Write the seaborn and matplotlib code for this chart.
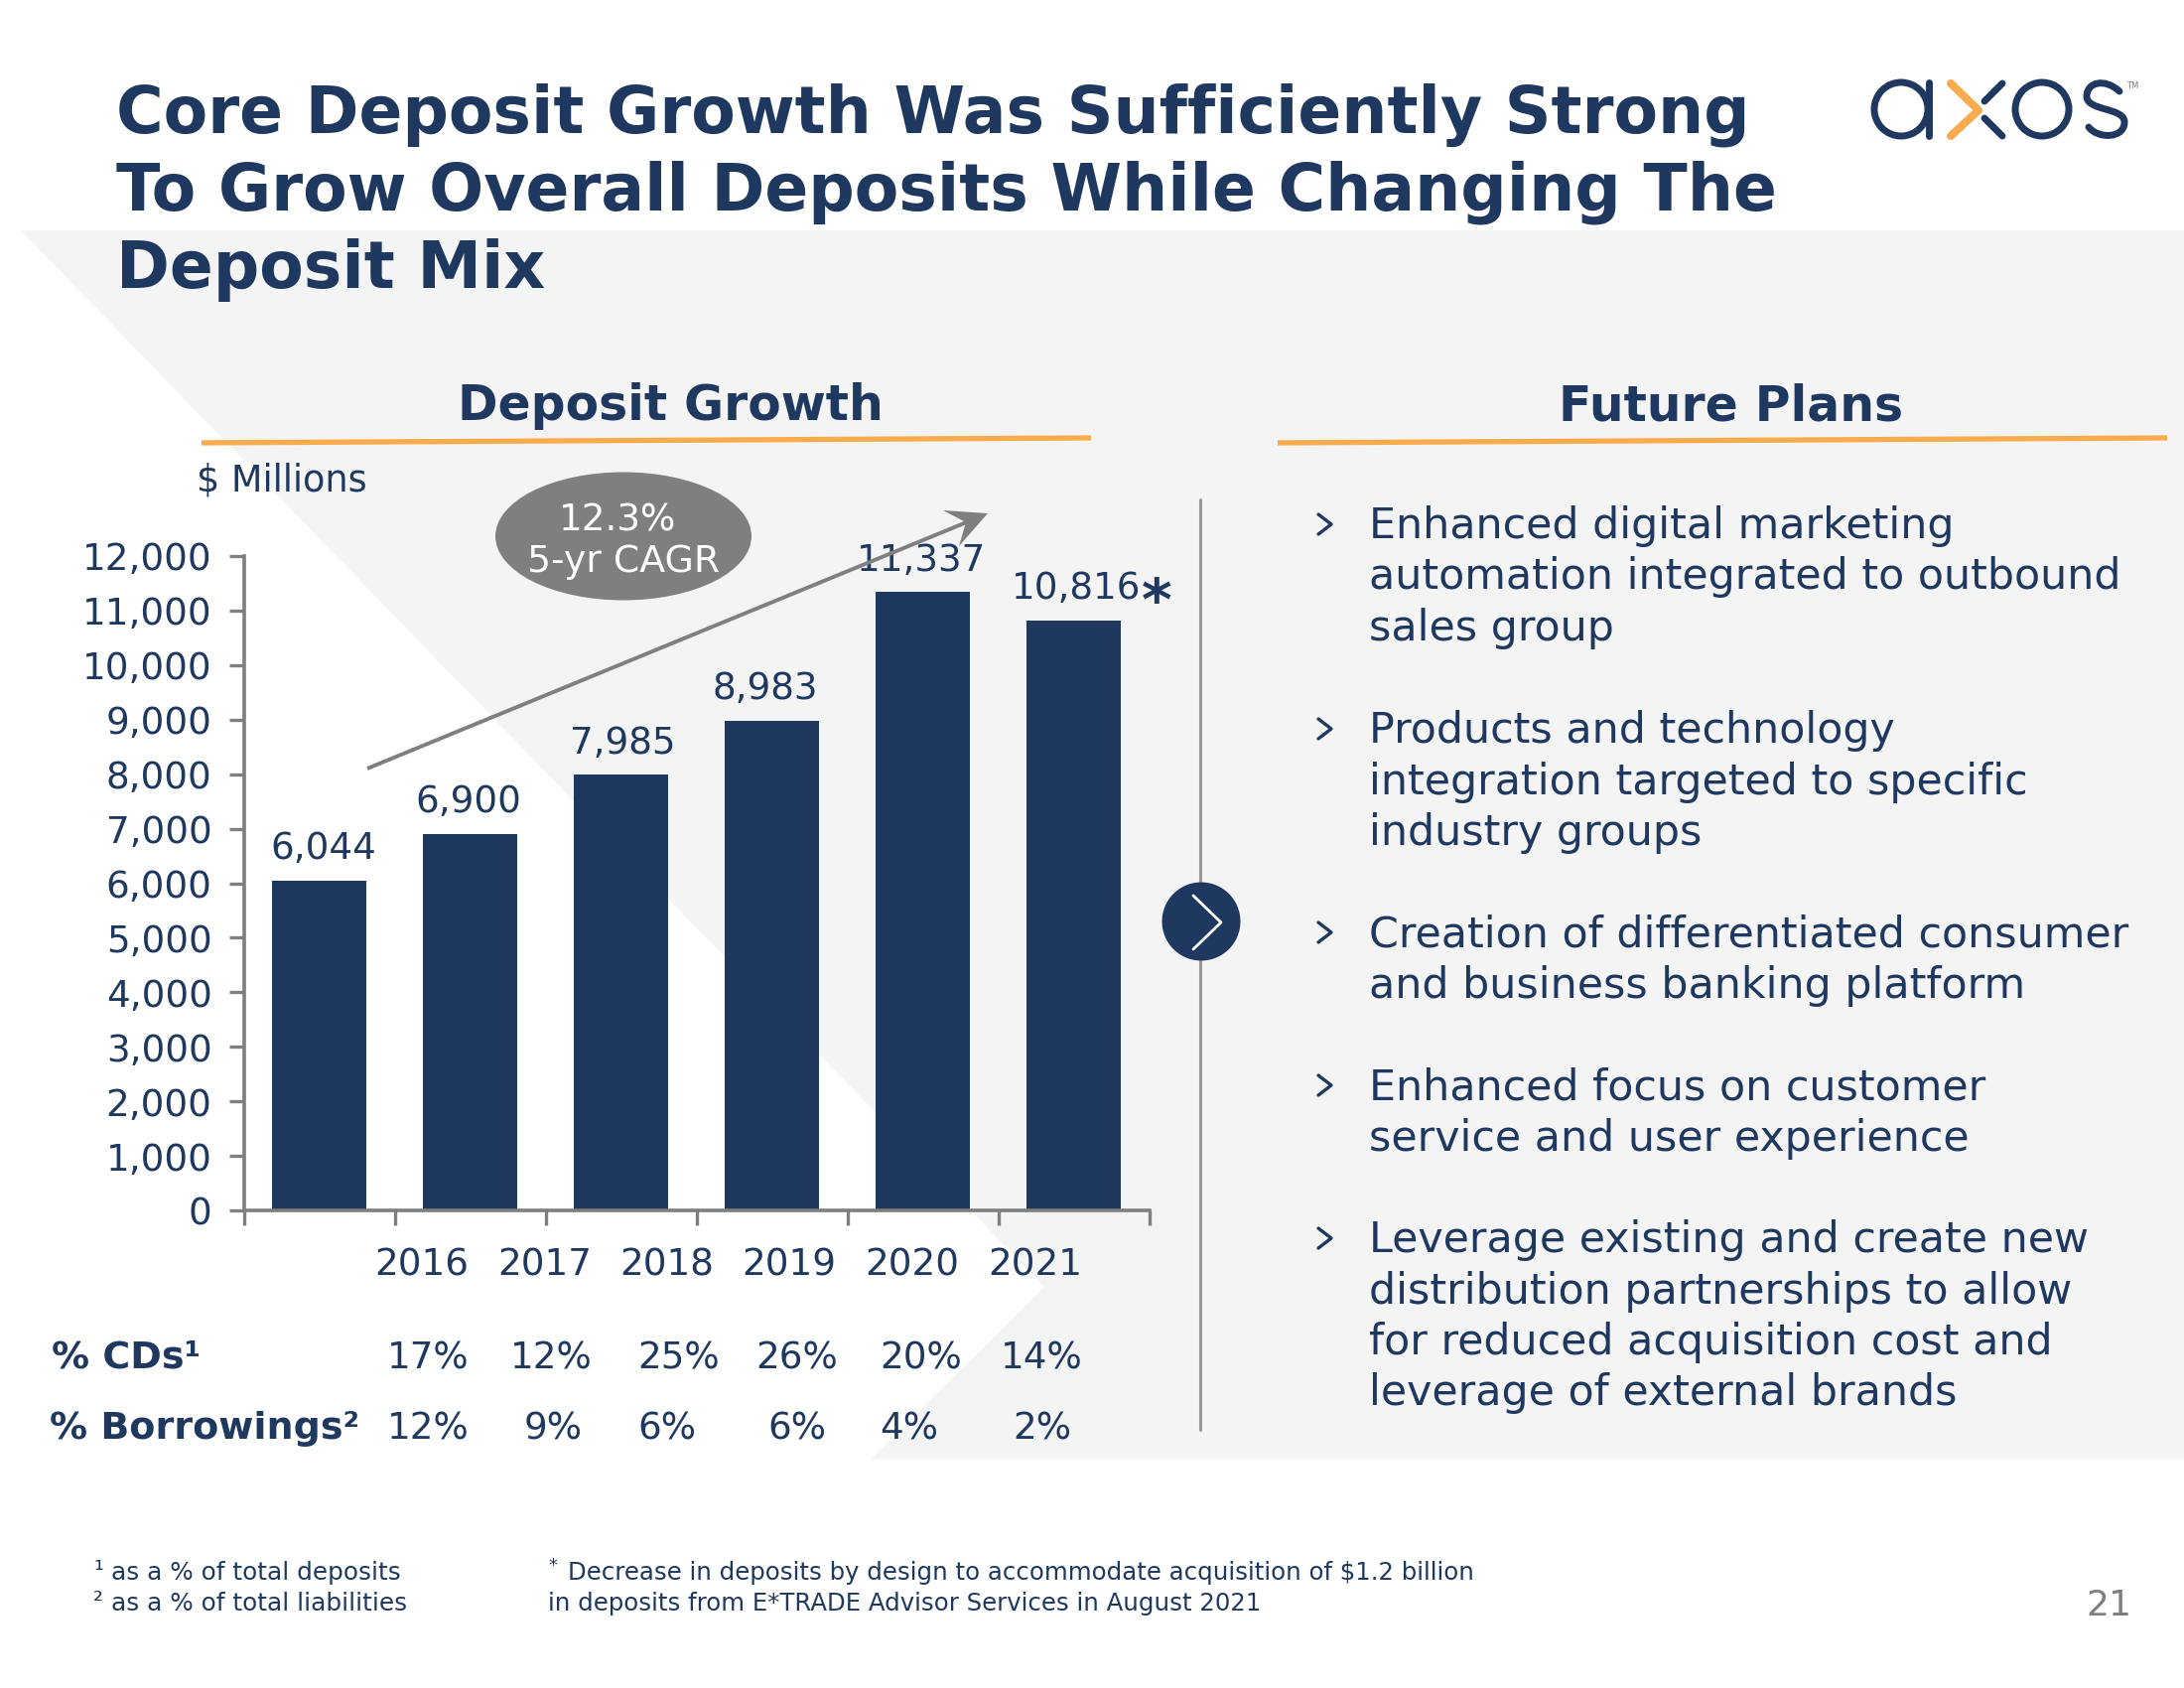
import matplotlib
matplotlib.use("Agg")
import matplotlib.pyplot as plt
from matplotlib.patches import Polygon, Ellipse, Circle, PathPatch
from matplotlib.path import Path
import seaborn as sns

# data
years = ["2016", "2017", "2018", "2019", "2020", "2021"]
deposits = [6044, 6900, 7985, 8983, 11337, 10816]
cds = ["17%", "12%", "25%", "26%", "20%", "14%"]
borrowings = ["12%", "9%", "6%", "6%", "4%", "2%"]
y_ticks = list(range(0, 13000, 1000))

title_lines = ["Core Deposit Growth Was Sufficiently Strong",
               "To Grow Overall Deposits While Changing The",
               "Deposit Mix"]
plans = [["Enhanced digital marketing", "automation integrated to outbound", "sales group"],
         ["Products and technology", "integration targeted to specific", "industry groups"],
         ["Creation of differentiated consumer", "and business banking platform"],
         ["Enhanced focus on customer", "service and user experience"],
         ["Leverage existing and create new", "distribution partnerships to allow",
          "for reduced acquisition cost and", "leverage of external brands"]]

NAVY = "#1F3860"
ORANGE = "#F9AB4E"
GRAY = "#7F7F7F"
BAND = "#F4F4F4"
W, H = 2200, 1700
NUM = 13.4

sns.set_theme(style="white")
plt.rcParams["font.family"] = ["DejaVu Sans"]


def pixel_axes(fig, z):
    # full-figure axes in reference pixels, y going down
    a = fig.add_axes([0, 0, 1, 1], zorder=z)
    a.set_xlim(0, W)
    a.set_ylim(H, 0)
    a.axis("off")
    a.patch.set_alpha(0)
    return a


fig = plt.figure(figsize=(11, 8.5), dpi=200, facecolor="white")
bg = pixel_axes(fig, 0)
top = pixel_axes(fig, 2)

# background band with the white wedge cut in
bg.fill_between([0, W], 232, 1470, color=BAND, lw=0)
bg.add_patch(Polygon([(0, 232), (21, 232), (1052, 1296), (877, 1470), (0, 1470)],
                     closed=True, fc="white", ec="none"))

# bar chart
left, right, y0, y12 = 245.5, 1157.5, 1219, 560
ax = fig.add_axes([left / W, 1 - y0 / H, (right - left) / W, (y0 - y12) / H], zorder=1)
ax.patch.set_alpha(0)
sns.barplot(x=years, y=deposits, color=NAVY, saturation=1, width=0.62, linewidth=0, ax=ax)
ax.set_xlim(-0.5, 5.5)
ax.set_ylim(0, 12000)
ax.set_yticks(y_ticks)
ax.set_yticklabels([f"{v:,}" for v in y_ticks], color=NAVY, fontsize=NUM)
ax.set_xticks([i - 0.5 for i in range(7)])
ax.set_xticklabels([])
ax.tick_params(axis="both", length=5.5, width=1.2, color=GRAY, direction="out", pad=6, bottom=True, left=True)
for s in ["top", "right"]:
    ax.spines[s].set_visible(False)
for s in ["left", "bottom"]:
    ax.spines[s].set_color(GRAY)
    ax.spines[s].set_linewidth(1.3)
labels = ax.bar_label(ax.containers[0], fmt="{:,.0f}", padding=5, color=NAVY, fontsize=NUM)
# the slide's labels sit a little off centre
for lab, dx in zip(labels, [1.5, -0.5, 0.5, -2.5, -0.5, 1]):
    lab.xyann = (dx, lab.xyann[1])

# title
for i, line in enumerate(title_lines):
    top.text(117, 116 + i * 78, line, color=NAVY, fontsize=23.35, fontweight="bold", va="center")

# section heads
top.text(675, 409, "Deposit Growth", color=NAVY, fontsize=17.55, fontweight="bold", ha="center", va="center")
top.text(1744, 409, "Future Plans", color=NAVY, fontsize=17.55, fontweight="bold", ha="center", va="center")
top.plot([203, 1099], [446, 441], color=ORANGE, lw=1.9, solid_capstyle="butt")
top.plot([1287, 2183], [446, 441], color=ORANGE, lw=1.9, solid_capstyle="butt")
top.text(198, 484, "$ Millions", color=NAVY, fontsize=13.2, va="center")

# CAGR bubble and arrow
top.plot([370, 976], [774, 525], color=GRAY, lw=1.4, solid_capstyle="butt")
top.add_patch(Polygon([(995, 517), (950, 514), (973, 526), (966, 550)], closed=True, fc=GRAY, ec="none"))
top.add_patch(Ellipse((628, 540), 258, 129, fc=GRAY, ec="none"))
top.text(622, 524, "12.3%", color="white", fontsize=NUM, ha="center", va="center")
top.text(628, 566, "5-yr CAGR", color="white", fontsize=13.6, ha="center", va="center")
top.text(1165, 608, "*", color=NAVY, fontsize=21, fontweight="bold", ha="center", va="center")

# years and the two rows under the axis
year_x = [425, 549, 672, 795, 919, 1043]
cds_x = [431, 555, 684, 803, 928, 1049]
bor_x = [431, 557, 672, 803, 916, 1050]
for x, t in zip(year_x, years):
    top.text(x, 1274, t, color=NAVY, fontsize=NUM, ha="center", va="center")
for x, t in zip(cds_x, cds):
    top.text(x, 1368, t, color=NAVY, fontsize=NUM, ha="center", va="center")
for x, t in zip(bor_x, borrowings):
    top.text(x, 1439, t, color=NAVY, fontsize=NUM, ha="center", va="center")
top.text(52, 1368, "% CDs¹", color=NAVY, fontsize=13.7, fontweight="bold", va="center")
top.text(50, 1439, "% Borrowings²", color=NAVY, fontsize=13.7, fontweight="bold", va="center")

# divider with round arrow
top.plot([1209, 1209], [503, 1440], color="#999999", lw=1.1)
top.add_patch(Circle((1210, 928), 39.5, fc=NAVY, ec="none", zorder=3))
top.plot([1202, 1230, 1202], [902, 929, 956], color="white", lw=1.0, zorder=4)

# future plans list
starts = [528, 734, 939, 1093, 1247]
for y, lines in zip(starts, plans):
    top.plot([1328, 1341, 1328], [y - 10, y, y + 10], color=NAVY, lw=1.2)
    for k, line in enumerate(lines):
        top.text(1379, y + 2 + k * 51.5, line, color=NAVY, fontsize=15.4, va="center")

# footnotes
top.text(94, 1582, "¹", color=NAVY, fontsize=8.9, va="center")
top.text(112, 1584, "as a % of total deposits", color=NAVY, fontsize=8.9, va="center")
top.text(94, 1613, "²", color=NAVY, fontsize=8.9, va="center")
top.text(112, 1615, "as a % of total liabilities", color=NAVY, fontsize=8.9, va="center")
top.text(552, 1577, "*", color=NAVY, fontsize=6.5, va="center")
top.text(572, 1584, "Decrease in deposits by design to accommodate acquisition of $1.2 billion",
         color=NAVY, fontsize=8.8, va="center")
top.text(552, 1615, "in deposits from E*TRADE Advisor Services in August 2021", color=NAVY, fontsize=8.8, va="center")
top.text(2147, 1617, "21", color=GRAY, fontsize=13, ha="right", va="center")

# logo
logo_lw = 2.5
top.add_patch(Circle((1915, 110), 27, fc="none", ec=NAVY, lw=logo_lw))
top.plot([1943, 1943], [83, 137], color=NAVY, lw=logo_lw, solid_capstyle="round")
top.plot([1965, 1993, 1965], [84, 111, 137], color=ORANGE, lw=logo_lw + 0.4, solid_capstyle="round")
top.plot([2017, 1999], [84, 102], color=NAVY, lw=logo_lw, solid_capstyle="round")
top.plot([1999, 2017], [119, 137], color=NAVY, lw=logo_lw, solid_capstyle="round")
top.add_patch(Circle((2057, 110), 27, fc="none", ec=NAVY, lw=logo_lw))
s_pts = [(2135, 92), (2120, 78), (2102, 83), (2102, 97), (2102, 112), (2140, 108), (2140, 123),
         (2140, 140), (2113, 140), (2104, 128)]
s_codes = [Path.MOVETO] + [Path.CURVE4] * 9
top.add_patch(PathPatch(Path(s_pts, s_codes), fc="none", ec=NAVY, lw=logo_lw, capstyle="round"))
top.text(2148, 86, "TM", color=GRAY, fontsize=3, ha="center", va="center")

fig.savefig("out.png", dpi=200, facecolor="white")
